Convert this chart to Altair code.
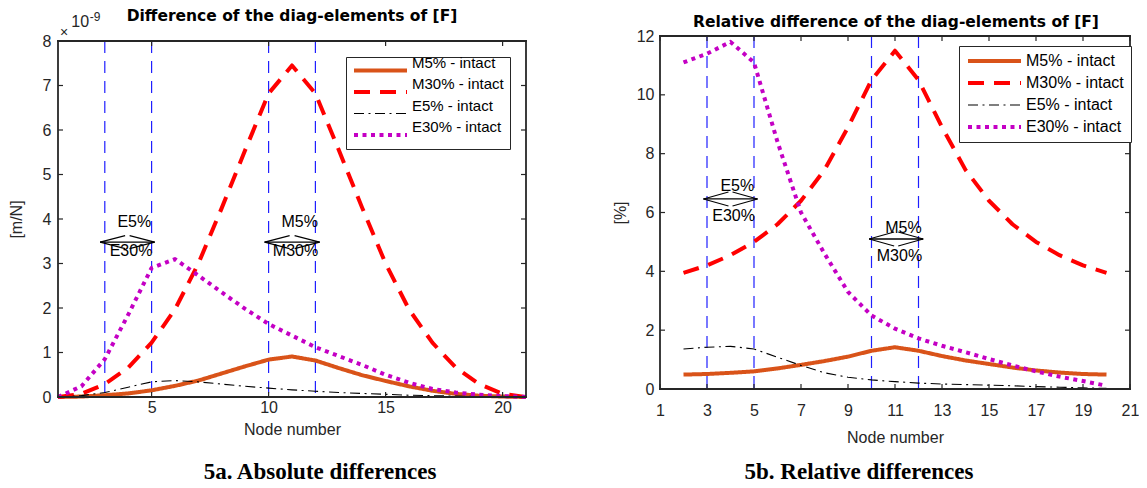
import altair as alt
import pandas as pd

# ---------------- data ----------------
series_names = ["M5% - intact", "M30% - intact", "E5% - intact", "E30% - intact"]

# 5a: absolute differences (units of 1e-9 m/N), nodes 1..21
nodes_a = list(range(1, 22))
m5_a = [0, 0.01, 0.04, 0.08, 0.15, 0.25, 0.37, 0.53, 0.69, 0.84, 0.91, 0.82, 0.65, 0.49, 0.36, 0.24, 0.14, 0.07, 0.03, 0.01, 0]
m30_a = [0, 0.07, 0.29, 0.66, 1.22, 1.97, 3.0, 4.25, 5.55, 6.82, 7.45, 6.82, 5.55, 4.25, 3.0, 1.97, 1.22, 0.66, 0.29, 0.07, 0]
e5_a = [0, 0.03, 0.1, 0.22, 0.34, 0.37, 0.34, 0.29, 0.24, 0.2, 0.16, 0.13, 0.1, 0.08, 0.06, 0.04, 0.03, 0.02, 0.01, 0.005, 0]
e30_a = [0, 0.24, 0.85, 1.85, 2.9, 3.1, 2.73, 2.35, 1.98, 1.64, 1.38, 1.12, 0.92, 0.72, 0.5, 0.32, 0.18, 0.1, 0.05, 0.02, 0]

# 5b: relative differences (%), nodes 2..20
nodes_b = list(range(2, 21))
m5_b = [0.49, 0.51, 0.55, 0.6, 0.7, 0.82, 0.95, 1.1, 1.3, 1.42, 1.3, 1.12, 0.97, 0.85, 0.73, 0.63, 0.56, 0.51, 0.49]
m30_b = [3.95, 4.2, 4.55, 5.0, 5.6, 6.4, 7.45, 8.9, 10.5, 11.5, 10.5, 8.9, 7.45, 6.4, 5.6, 5.0, 4.55, 4.2, 3.95]
e5_b = [1.36, 1.42, 1.45, 1.36, 1.08, 0.8, 0.55, 0.4, 0.31, 0.25, 0.2, 0.17, 0.15, 0.13, 0.11, 0.08, 0.06, 0.04, 0.02]
e30_b = [11.1, 11.4, 11.8, 11.1, 8.4, 6.0, 4.6, 3.3, 2.5, 2.05, 1.72, 1.47, 1.25, 1.02, 0.8, 0.6, 0.42, 0.27, 0.11]

region_nodes = [3, 5, 10, 12]

# double arrows (x start, x end, y)
arrow_x1_a = [2.8, 9.83]
arrow_x2_a = [5.13, 12.18]
arrow_y_a = [3.48, 3.48]
arrow_x1_b = [2.85, 9.9]
arrow_x2_b = [5.15, 12.2]
arrow_y_b = [6.46, 5.1]

ann_labels = ["E5%", "E30%", "M5%", "M30%"]
ann_x_a = [4.26, 4.12, 11.33, 11.15]
ann_y_a = [3.94, 3.29, 3.94, 3.29]
ann_x_b = [4.29, 4.13, 11.36, 11.19]
ann_y_b = [6.89, 5.87, 5.49, 4.53]

xticks_a = [5, 10, 15, 20]
yticks_a = [0, 1, 2, 3, 4, 5, 6, 7, 8]
xticks_b = [1, 3, 5, 7, 9, 11, 13, 15, 17, 19, 21]
yticks_b = [0, 2, 4, 6, 8, 10, 12]

titles = ["Difference of the diag-elements of [F]", "Relative difference of the diag-elements of [F]"]
captions = ["5a. Absolute differences", "5b. Relative differences"]
ylabels = ["[m/N]", "[%]"]
exponent = ["\u00d7", "10", "-9"]

# ---------------- styles ----------------
series_colors = ["#D95319", "#FF0000", "#000000", "#C400C4"]
series_dash = [[1, 0], [16, 10], [10, 4.5, 2, 4.5], [4, 4.5]]
series_width = [4, 4, 1.1, 4]
AX = "#262626"
SANS = "Liberation Sans"
BOLD = "DejaVu Sans"
SERIF = "Liberation Serif"
ONE = pd.DataFrame({"k": [0]})


def long_df(nodes, cols):
    rows = []
    for name, vals in zip(series_names, cols):
        for n, v in zip(nodes, vals):
            rows.append({"node": n, "value": v, "series": name})
    return pd.DataFrame(rows)


def panel(nodes, cols, W, H, top, ydom, xticks, yticks, ytitle, xlabpad, xtitlepad, ylabpad, ytitlepad,
          legx, legy, legfont, legpad, legclip, legrowpad, legbaseline,
          ax1, ax2, ay, annx, anny, arm_dy, title, title_x, title_y, caption, cap_x, cap_y):
    # the plot frame runs from pixel y=top (may be above the group origin) down to H
    xs = alt.Scale(domain=[1, 21], nice=False, zero=False)
    ys = alt.Scale(domain=ydom, nice=False, zero=False, range=[H, top])
    X = lambda **kw: alt.X("node:Q", scale=xs, **kw)
    Y = lambda **kw: alt.Y("value:Q", scale=ys, **kw)

    leg = alt.Legend(title=None, orient="none", legendX=legx, legendY=legy, direction="vertical",
                     symbolType="stroke", symbolSize=2809, labelFontSize=legfont, labelFont=SANS,
                     labelColor="black", padding=legpad, rowPadding=legrowpad, labelOffset=3, clipHeight=legclip,
                     strokeColor=AX, fillColor="white", labelLimit=300, labelBaseline=legbaseline)

    df = long_df(nodes, cols)
    lines = alt.Chart(df).mark_line(strokeCap="butt", strokeJoin="round").encode(
        x=X(axis=alt.Axis(values=xticks, labelPadding=xlabpad, title="Node number", titlePadding=xtitlepad)),
        y=Y(axis=alt.Axis(values=yticks, labelPadding=ylabpad, title=ytitle, titlePadding=ytitlepad)),
        color=alt.Color("series:N", scale=alt.Scale(domain=series_names, range=series_colors), legend=leg),
        strokeDash=alt.StrokeDash("series:N", scale=alt.Scale(type="ordinal", domain=series_names, range=series_dash), legend=leg),
        strokeWidth=alt.StrokeWidth("series:N", scale=alt.Scale(type="ordinal", domain=series_names, range=series_width), legend=leg),
    )

    vlines = alt.Chart(pd.DataFrame({"node": region_nodes})).mark_rule(
        color="#1f1fff", strokeWidth=1.2, strokeDash=[12, 8]).encode(x=X(), y=alt.value(top), y2=alt.value(H))

    adf = pd.DataFrame({"node": ax1, "node2": ax2, "value": ay})
    shaft = alt.Chart(adf).mark_rule(color="black", strokeWidth=1.3).encode(
        x=X(), x2=alt.X2("node2:Q"), y=Y())
    arms = []
    left_tips = pd.DataFrame({"node": ax1, "value": ay})
    right_tips = pd.DataFrame({"node": ax2, "value": ay})
    for tips, dx in [(left_tips, 25), (right_tips, -25)]:
        for dy in [-arm_dy, arm_dy]:
            arms.append(alt.Chart(tips).mark_rule(color="black", strokeWidth=1.1, x2Offset=dx, y2Offset=dy).encode(
                x=X(), x2=alt.X2("node:Q"), y=Y(), y2=alt.Y2("value:Q")))

    ann = alt.Chart(pd.DataFrame({"node": annx, "value": anny, "label": ann_labels})).mark_text(
        font=SANS, fontSize=16, color="black", baseline="middle", align="center").encode(
        x=X(), y=Y(), text="label:N")

    tick_len = 5
    xt = pd.DataFrame({"node": xticks})
    yt = pd.DataFrame({"value": yticks})
    tk = dict(color=AX, strokeWidth=1.2)
    ticks = [
        alt.Chart(xt).mark_rule(**tk).encode(x=X(), y=alt.value(H), y2=alt.value(H - tick_len)),
        alt.Chart(xt).mark_rule(**tk).encode(x=X(), y=alt.value(top), y2=alt.value(top + tick_len)),
        alt.Chart(yt).mark_rule(**tk).encode(y=Y(), x=alt.value(0), x2=alt.value(tick_len)),
        alt.Chart(yt).mark_rule(**tk).encode(y=Y(), x=alt.value(W), x2=alt.value(W - tick_len)),
    ]
    bx = dict(color=AX, strokeWidth=1.8, strokeCap="square")
    box = [
        alt.Chart(ONE).mark_rule(**bx).encode(x=alt.value(0), x2=alt.value(W), y=alt.value(top)),
        alt.Chart(ONE).mark_rule(**bx).encode(x=alt.value(0), x2=alt.value(W), y=alt.value(H)),
        alt.Chart(ONE).mark_rule(**bx).encode(x=alt.value(0), y=alt.value(top), y2=alt.value(H)),
        alt.Chart(ONE).mark_rule(**bx).encode(x=alt.value(W), y=alt.value(top), y2=alt.value(H)),
    ]

    ttl = alt.Chart(pd.DataFrame({"t": [title]})).mark_text(
        font=BOLD, fontWeight="bold", fontSize=15.5, color="black", baseline="alphabetic", align="center").encode(
        text="t:N", x=alt.value(title_x), y=alt.value(title_y))
    cap = alt.Chart(pd.DataFrame({"t": [caption]})).mark_text(
        font=SERIF, fontWeight="bold", fontSize=23, color="black", baseline="middle", align="center").encode(
        text="t:N", x=alt.value(cap_x), y=alt.value(cap_y))

    return [vlines, lines, shaft] + arms + [ann] + ticks + box + [ttl, cap]


left_layers = panel(nodes_a, [m5_a, m30_a, e5_a, e30_a], 468, 356, 0, [0, 8], xticks_a, yticks_a, ylabels[0],
                    2, 6.5, 7, 18, 288, 16, 15, 6, 15, -1.5, "bottom",
                    arrow_x1_a, arrow_x2_a, arrow_y_a, ann_x_a, ann_y_a, 6.5,
                    titles[0], 234, -20.3, captions[0], 262, 431)

exp_layers = [
    alt.Chart(pd.DataFrame({"t": [exponent[0]]})).mark_text(font=SANS, fontSize=14, color=AX, baseline="middle", align="center").encode(
        text="t:N", x=alt.value(6), y=alt.value(-8.5)),
    alt.Chart(pd.DataFrame({"t": [exponent[1]]})).mark_text(font=SANS, fontSize=16, color=AX, baseline="alphabetic", align="left").encode(
        text="t:N", x=alt.value(13.3), y=alt.value(-13.7)),
    alt.Chart(pd.DataFrame({"t": [exponent[2]]})).mark_text(font=SANS, fontSize=12, color=AX, baseline="alphabetic", align="left").encode(
        text="t:N", x=alt.value(31.7), y=alt.value(-20.3)),
]

left = alt.layer(*(left_layers + exp_layers)).properties(width=468, height=356)

# right frame: y from 37 to 390 in page pixels, group origin at 42
right_layers = panel(nodes_b, [m5_b, m30_b, e5_b, e30_b], 470, 348, -5, [0, 12], xticks_b, yticks_b, ylabels[1],
                     13, 11, 6, 8, 299, 5, 16, 7, 16, 6, "middle",
                     arrow_x1_b, arrow_x2_b, arrow_y_b, ann_x_b, ann_y_b, 7,
                     titles[1], 236, -13.7, captions[1], 199, 431)
right = alt.layer(*right_layers).properties(width=470, height=348)

chart = alt.hconcat(left, right, spacing=84).resolve_scale(
    color="independent", strokeDash="independent", strokeWidth="independent"
).properties(
    padding={"left": 8, "top": 8, "right": 0, "bottom": 0}, background="white"
).configure_view(strokeWidth=0).configure_axis(
    grid=False, domain=False, ticks=False, labelFont=SANS, labelFontSize=16, labelColor=AX,
    titleFont=SANS, titleFontSize=16, titleFontWeight="normal", titleColor=AX,
    labelFlush=False, labelOverlap=False
)

chart.save("out.html", embed_options={"renderer": "svg", "actions": False})
